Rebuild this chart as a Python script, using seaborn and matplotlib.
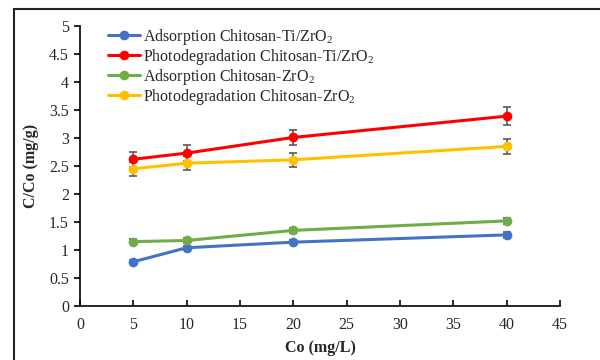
import matplotlib
matplotlib.use("Agg")
import matplotlib.pyplot as plt
import seaborn as sns
import pandas as pd
from matplotlib.patches import Rectangle

co = [5, 10, 20, 40]
series_names = [
    "Adsorption Chitosan-Ti/ZrO$_2$",
    "Photodegradation Chitosan-Ti/ZrO$_2$",
    "Adsorption Chitosan-ZrO$_2$",
    "Photodegradation Chitosan-ZrO$_2$",
]
ads_ti = [0.79, 1.04, 1.14, 1.27]
photo_ti = [2.62, 2.73, 3.01, 3.39]
ads_zr = [1.15, 1.17, 1.35, 1.52]
photo_zr = [2.45, 2.55, 2.61, 2.85]
err_ads_ti = [0.03, 0.04, 0.04, 0.05]
err_photo_ti = [0.13, 0.14, 0.14, 0.16]
err_ads_zr = [0.04, 0.04, 0.05, 0.05]
err_photo_zr = [0.12, 0.12, 0.13, 0.14]
colors = ["#4472C4", "#FF0000", "#70AD47", "#FFC000"]

sns.set_theme(style="white")
plt.rcParams["font.family"] = ["Liberation Serif", "DejaVu Serif"]
plt.rcParams["mathtext.fontset"] = "custom"
plt.rcParams["mathtext.rm"] = "Liberation Serif"
plt.rcParams["mathtext.it"] = "Liberation Serif:italic"
plt.rcParams["mathtext.bf"] = "Liberation Serif:bold"

values = [ads_ti, photo_ti, ads_zr, photo_zr]
errors = [err_ads_ti, err_photo_ti, err_ads_zr, err_photo_zr]
rows = []
for name, vals in zip(series_names, values):
    for x, v in zip(co, vals):
        rows.append({"Co": x, "val": v, "series": name})
df = pd.DataFrame(rows)

fig = plt.figure(figsize=(6, 3.6), dpi=100)
ax = fig.add_axes([80/600, 1-306/360, 480/600, 280/360])

for name, vals, errs, c in zip(series_names, values, errors, colors):
    ax.errorbar(co, vals, yerr=errs, fmt="none", ecolor="#595959",
                elinewidth=1.2, capsize=3, capthick=1.2, zorder=2)

sns.lineplot(data=df, x="Co", y="val", hue="series", palette=colors,
             hue_order=series_names, marker="o", markersize=7,
             markeredgewidth=0, linewidth=2.2, ax=ax, zorder=3)

ax.set_xlim(0, 45)
ax.set_ylim(0, 5)
ax.set_xticks(range(0, 46, 5))
ax.set_yticks([0, 0.5, 1, 1.5, 2, 2.5, 3, 3.5, 4, 4.5, 5])
ax.set_yticklabels(["0", "0.5", "1", "1.5", "2", "2.5", "3", "3.5", "4", "4.5", "5"])
for s in ["top", "right"]:
    ax.spines[s].set_visible(False)
for s in ["left", "bottom"]:
    ax.spines[s].set_color("black")
    ax.spines[s].set_linewidth(1.2)
ax.tick_params(axis="x", direction="in", length=4, width=1.2, color="black",
               labelsize=11.5, pad=8, bottom=True)
ax.tick_params(axis="y", direction="out", length=4, width=1.2, color="black",
               labelsize=11.5, left=True, pad=4)
ax.set_xlabel("Co (mg/L)", fontsize=11.5, fontweight="bold", labelpad=5)
ax.set_ylabel("C/Co (mg/g)", fontsize=11.5, fontweight="bold", labelpad=7)
ax.grid(False)

leg = ax.legend(loc="upper left", bbox_to_anchor=(0.045, 1.02), frameon=False,
                fontsize=11.5, handlelength=2.0, handletextpad=0.2,
                labelspacing=0.0, borderaxespad=0)
for h in leg.get_lines():
    h.set_linewidth(2.2)

fig.patches.append(Rectangle((14/600, -0.1), 2.0, 1-9/360+0.1,
                             transform=fig.transFigure, fill=False,
                             edgecolor="#222222", linewidth=1.5))

fig.savefig("out.png", dpi=100, facecolor="white")
